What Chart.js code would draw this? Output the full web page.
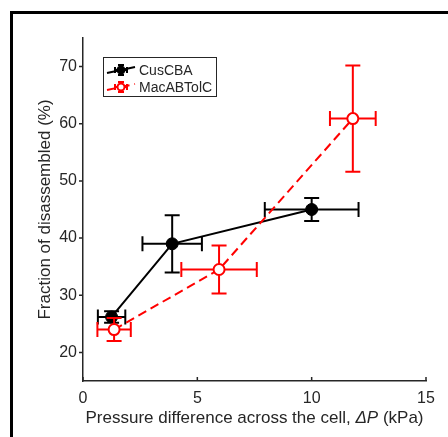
<!DOCTYPE html>
<html>
<head>
<meta charset="utf-8">
<script src="https://cdn.jsdelivr.net/npm/chart.js@4.4.0/dist/chart.umd.min.js"></script>
<style>
    body { margin: 0; background: #fff; }
    #frame { position: absolute; left: 10px; top: 11px; width: 600px; height: 600px;
             border-left: 3px solid #000; border-top: 3px solid #000; }
    #chart { position: absolute; left: 0; top: 0; }
</style>
</head>
<body>
<div id="frame"></div>
<canvas id="chart" width="448" height="437"></canvas>
<script>
// Data
var seriesNames = ['CusCBA', 'MacABTolC'];

var cusX = [1.25, 3.9, 10.0];
var cusY = [26.2, 39.0, 45.0];
var cusXErr = [0.6, 1.3, 2.05];
var cusYErr = [1.0, 5.0, 2.0];

var macX = [1.36, 5.95, 11.8];
var macY = [24.0, 34.5, 60.9];
var macXErr = [0.73, 1.65, 1.0];
var macYErr = [2.0, 4.2, 9.3];

var xTicks = [0, 5, 10, 15];
var yTicks = [20, 30, 40, 50, 60, 70];

var FONT = '"Liberation Sans", Arial, Helvetica, sans-serif';
var AXIS_COLOR = '#262626';

function toPoints(xs, ys, xe, ye) {
    return xs.map(function(x, i) {
        return { x: x, y: ys[i], xErr: xe[i], yErr: ye[i] };
    });
}

// Error bars drawn under each dataset's line and markers
var errorBarPlugin = {
    id: 'errorBars',
    beforeDatasetDraw: function(chart, args) {
        var ctx = chart.ctx;
        var ds = chart.data.datasets[args.index];
        var xs = chart.scales.x, ys = chart.scales.y;
        var cap = 7.5;
        ctx.save();
        ctx.strokeStyle = ds.borderColor;
        ctx.lineWidth = 2;
        ctx.setLineDash([]);
        ds.data.forEach(function(p) {
            var px = xs.getPixelForValue(p.x), py = ys.getPixelForValue(p.y);
            var x0 = xs.getPixelForValue(p.x - p.xErr), x1 = xs.getPixelForValue(p.x + p.xErr);
            var y0 = ys.getPixelForValue(p.y + p.yErr), y1 = ys.getPixelForValue(p.y - p.yErr);
            ctx.beginPath();
            ctx.moveTo(x0, py); ctx.lineTo(x1, py);
            ctx.moveTo(x0, py - cap); ctx.lineTo(x0, py + cap);
            ctx.moveTo(x1, py - cap); ctx.lineTo(x1, py + cap);
            ctx.moveTo(px, y0); ctx.lineTo(px, y1);
            ctx.moveTo(px - cap, y0); ctx.lineTo(px + cap, y0);
            ctx.moveTo(px - cap, y1); ctx.lineTo(px + cap, y1);
            ctx.stroke();
        });
        ctx.restore();
    }
};

// Ticks, axis titles and legend box
var decorPlugin = {
    id: 'decor',
    afterDraw: function(chart) {
        var ctx = chart.ctx;
        var xs = chart.scales.x, ys = chart.scales.y;
        var area = chart.chartArea;
        ctx.save();
        ctx.strokeStyle = AXIS_COLOR;
        ctx.lineWidth = 1.5;
        ctx.beginPath();
        xTicks.forEach(function(v) {
            var px = xs.getPixelForValue(v);
            ctx.moveTo(px, area.bottom); ctx.lineTo(px, area.bottom - 4);
        });
        yTicks.forEach(function(v) {
            var py = ys.getPixelForValue(v);
            ctx.moveTo(area.left, py); ctx.lineTo(area.left - 4, py);
        });
        ctx.stroke();

        // x title with italic ΔP
        ctx.fillStyle = AXIS_COLOR;
        ctx.textBaseline = 'middle';
        var parts = [
            { t: 'Pressure difference across the cell, ', f: '17px ' + FONT },
            { t: 'ΔP', f: 'italic 17px ' + FONT },
            { t: ' (kPa)', f: '17px ' + FONT }
        ];
        var total = 0;
        parts.forEach(function(p) { ctx.font = p.f; p.w = ctx.measureText(p.t).width; total += p.w; });
        var cx = 254.5 - total / 2;
        ctx.textAlign = 'left';
        parts.forEach(function(p) { ctx.font = p.f; ctx.fillText(p.t, cx, 418); cx += p.w; });

        // y title
        ctx.save();
        ctx.translate(45, (area.top + area.bottom) / 2);
        ctx.rotate(-Math.PI / 2);
        ctx.textAlign = 'center';
        ctx.font = '17px ' + FONT;
        ctx.fillText('Fraction of disassembled (%)', 0, 0);
        ctx.restore();

        // legend
        ctx.fillStyle = '#fff';
        ctx.fillRect(103.5, 57.5, 113, 39);
        ctx.strokeStyle = AXIS_COLOR;
        ctx.lineWidth = 1;
        ctx.strokeRect(103.5, 57.5, 113, 39);
        var rows = [70, 87];
        chart.data.datasets.slice().reverse().forEach(function(ds, i) {
            var y = rows[i], mx = 121;
            ctx.strokeStyle = ds.borderColor;
            ctx.lineWidth = 2;
            ctx.setLineDash(ds.borderDash || []);
            ctx.beginPath();
            ctx.moveTo(107, y + 3); ctx.lineTo(135, y - 3);
            ctx.stroke();
            ctx.setLineDash([]);
            ctx.beginPath();
            ctx.moveTo(mx - 6, y); ctx.lineTo(mx + 6, y);
            ctx.moveTo(mx - 6, y - 3); ctx.lineTo(mx - 6, y + 3);
            ctx.moveTo(mx + 6, y - 3); ctx.lineTo(mx + 6, y + 3);
            ctx.moveTo(mx, y - 5); ctx.lineTo(mx, y + 5);
            ctx.moveTo(mx - 3, y - 5); ctx.lineTo(mx + 3, y - 5);
            ctx.moveTo(mx - 3, y + 5); ctx.lineTo(mx + 3, y + 5);
            ctx.stroke();
            ctx.beginPath();
            ctx.arc(mx, y, 3.5, 0, Math.PI * 2);
            ctx.fillStyle = ds.pointBackgroundColor;
            ctx.fill();
            ctx.stroke();
            ctx.fillStyle = AXIS_COLOR;
            ctx.font = '14px ' + FONT;
            ctx.textAlign = 'left';
            ctx.fillText(ds.label, 139, y + 1);
        });
        ctx.restore();
    }
};

var ctx = document.getElementById('chart').getContext('2d');
new Chart(ctx, {
    type: 'scatter',
    data: {
        datasets: [
            {
                label: seriesNames[1],
                data: toPoints(macX, macY, macXErr, macYErr),
                showLine: true,
                borderColor: '#ff0000',
                borderWidth: 2,
                borderDash: [9, 5],
                pointRadius: 5.5,
                pointBorderWidth: 2,
                pointBackgroundColor: '#ffffff',
                pointBorderColor: '#ff0000',
                order: 0
            },
            {
                label: seriesNames[0],
                data: toPoints(cusX, cusY, cusXErr, cusYErr),
                showLine: true,
                borderColor: '#000000',
                borderWidth: 2,
                pointRadius: 6,
                pointBorderWidth: 1,
                pointBackgroundColor: '#000000',
                pointBorderColor: '#000000',
                order: 1
            }
        ]
    },
    options: {
        responsive: false,
        animation: false,
        devicePixelRatio: 1,
        layout: { padding: { left: 0, top: 38, right: 22, bottom: 0 } },
        plugins: { legend: { display: false }, tooltip: { enabled: false } },
        scales: {
            x: {
                type: 'linear',
                min: 0, max: 15,
                afterBuildTicks: function(s) { s.ticks = xTicks.map(function(v) { return { value: v }; }); },
                afterFit: function(s) { s.height = 56; },
                grid: { drawOnChartArea: false, drawTicks: false },
                border: { display: true, color: AXIS_COLOR, width: 1.5 },
                ticks: { color: AXIS_COLOR, padding: 8, font: { family: FONT, size: 16 }, maxRotation: 0 }
            },
            y: {
                type: 'linear',
                min: 15, max: 75,
                afterBuildTicks: function(s) { s.ticks = yTicks.map(function(v) { return { value: v }; }); },
                afterFit: function(s) { s.width = 83; },
                grid: { drawOnChartArea: false, drawTicks: false },
                border: { display: true, color: AXIS_COLOR, width: 1.5 },
                ticks: { color: AXIS_COLOR, padding: 6, font: { family: FONT, size: 16 } }
            }
        }
    },
    plugins: [errorBarPlugin, decorPlugin]
});
</script>
</body>
</html>
